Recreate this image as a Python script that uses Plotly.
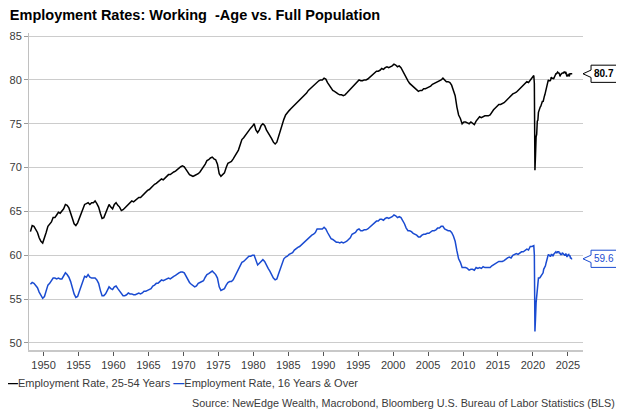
import pandas as pd
import plotly.graph_objects as go

# ---------------- data ----------------
title_text = "Employment Rates: Working  -Age vs. Full Population"
name_prime = "Employment Rate, 25-54 Years"
name_all = "Employment Rate, 16 Years & Over"
source_text = "Source: NewEdge Wealth, Macrobond, Bloomberg U.S. Bureau of Labor Statistics (BLS)"

# quarterly readings 1948-2019 (Feb, May, Aug, Nov)
prime_quarterly = [
    62.7, 63.4, 63.3, 63.0,  62.6, 62.0, 61.6, 61.4,  61.9, 62.6, 63.3, 63.5,
    63.8, 64.3, 64.3, 64.6,  64.9, 64.8, 65.1, 65.3,  65.8, 65.7, 65.4, 64.9,
    64.2, 63.6, 63.4, 63.7,  64.2, 64.8, 65.4, 65.8,  65.9, 66.0, 65.8, 66.0,
    66.0, 66.2, 65.9, 65.5,  64.8, 64.2, 64.3, 64.8,  65.3, 65.8, 65.5, 65.3,
    65.8, 66.0, 65.7, 65.5,  65.1, 65.2, 65.4, 65.6,  65.9, 66.0, 66.2, 66.1,
    66.3, 66.4, 66.6, 66.6,  66.8, 67.1, 67.2, 67.4,  67.5, 67.7, 68.0, 68.1,
    68.2, 68.4, 68.5, 68.7,  68.6, 68.8, 69.0, 69.2,  69.2, 69.4, 69.5, 69.6,
    69.8, 69.9, 70.1, 70.2,  70.1, 69.8, 69.5, 69.2,  69.1, 69.0, 69.1, 69.2,
    69.3, 69.5, 69.8, 70.0,  70.4, 70.8, 70.9, 71.1,  71.2, 71.0, 70.9, 70.4,
    69.3, 69.0, 69.2, 69.4,  70.0, 70.5, 70.6, 70.7,  71.0, 71.3, 71.6, 72.0,
    72.6, 73.2, 73.4, 73.7,  74.0, 74.3, 74.5, 74.7,  75.0, 74.3, 74.0, 74.3,
    74.8, 75.0, 74.8, 74.3,  74.0, 73.7, 73.3, 72.9,  72.7, 72.9, 73.6, 74.2,
    74.8, 75.5, 76.0, 76.3,  76.5, 76.7, 76.9, 77.1,  77.3, 77.5, 77.6, 77.8,
    78.0, 78.3, 78.5, 78.8,  79.0, 79.1, 79.3, 79.5,  79.8, 79.9, 80.0, 80.0,
    80.2, 80.1, 79.7, 79.4,  79.0, 78.8, 78.7, 78.5,  78.4, 78.3, 78.3, 78.2,
    78.3, 78.5, 78.7, 79.0,  79.2, 79.4, 79.6, 79.8,  80.0, 79.9, 79.9, 80.0,
    80.0, 80.1, 80.3, 80.5,  80.6, 80.8, 81.0, 81.0,  81.1, 81.3, 81.2, 81.4,
    81.5, 81.4, 81.5, 81.6,  81.8, 81.7, 81.5, 81.6,  81.4, 81.0, 80.6, 80.2,
    79.9, 79.6, 79.4, 79.2,  79.0, 78.9, 78.7, 78.8,  78.8, 79.0, 79.0, 79.1,
    79.2, 79.3, 79.5, 79.6,  79.7, 79.8, 79.9, 80.0,  80.2, 80.0, 79.8, 79.8,
    79.7, 79.4, 78.8, 78.2,  76.9, 76.0, 75.6, 75.0,  75.2, 75.2, 75.1, 75.0,
    75.2, 75.0, 74.9, 75.3,  75.6, 75.8, 75.7, 75.8,  75.9, 75.9, 75.9, 76.0,
    76.4, 76.6, 76.8, 77.0,  77.2, 77.2, 77.3, 77.4,  77.6, 77.8, 78.1, 78.2,
    78.4, 78.5, 78.6, 78.8,  79.0, 79.3, 79.5, 79.7,  79.8, 79.7, 80.0, 80.3,
]
all_quarterly = [
    56.7, 56.9, 56.8, 56.5,  56.3, 55.8, 55.4, 55.1,  55.3, 56.0, 56.6, 56.8,
    57.2, 57.4, 57.4, 57.3,  57.4, 57.3, 57.3, 57.6,  58.0, 57.8, 57.5, 57.0,
    56.2, 55.6, 55.2, 55.3,  55.9, 56.5, 57.2, 57.6,  57.5, 57.8, 57.5, 57.4,
    57.4, 57.4, 57.2, 56.8,  56.0, 55.4, 55.4, 55.6,  56.0, 56.4, 56.2, 56.1,
    56.4, 56.5, 56.2, 55.9,  55.6, 55.4, 55.4, 55.5,  55.7, 55.6, 55.6, 55.5,
    55.5, 55.6, 55.7, 55.6,  55.7, 55.9, 55.9, 56.0,  56.1, 56.2, 56.5, 56.6,
    56.8, 56.8, 57.0, 57.2,  57.1, 57.2, 57.3, 57.4,  57.3, 57.5, 57.6, 57.7,
    57.9, 58.0, 58.1, 58.1,  58.0, 57.6, 57.3, 56.9,  56.7, 56.5, 56.4, 56.5,
    56.8, 56.9, 57.0, 57.1,  57.5, 57.8, 57.9, 58.1,  58.2, 58.0, 57.8, 57.4,
    56.4, 56.0, 56.1, 56.2,  56.6, 56.9, 57.0, 57.0,  57.2, 57.6, 58.0, 58.3,
    58.8, 59.2, 59.3, 59.5,  59.8, 59.9, 59.9, 60.0,  60.0, 59.3, 58.9, 59.1,
    59.3, 59.5, 59.3, 58.8,  58.5, 58.2, 57.8, 57.4,  57.2, 57.3, 57.9, 58.5,
    59.0, 59.6, 59.8, 59.9,  60.1, 60.2, 60.3, 60.6,  60.8, 60.9, 61.0, 61.2,
    61.3, 61.6, 61.8, 62.0,  62.1, 62.3, 62.4, 62.6,  63.0, 63.0, 63.0, 63.0,
    63.2, 63.0, 62.6, 62.3,  61.9, 61.8, 61.6, 61.5,  61.5, 61.4, 61.5, 61.4,
    61.5, 61.6, 61.8, 62.0,  62.4, 62.5, 62.6, 62.9,  63.0, 62.8, 62.8, 62.9,
    62.9, 63.0, 63.2, 63.4,  63.6, 63.8, 63.9, 63.9,  64.1, 64.1, 64.0, 64.2,
    64.3, 64.2, 64.3, 64.4,  64.6, 64.5, 64.3, 64.4,  64.3, 64.0, 63.6, 63.1,
    62.8, 62.8, 62.7, 62.5,  62.4, 62.3, 62.1, 62.1,  62.3, 62.4, 62.4, 62.5,
    62.5, 62.7, 62.8, 62.8,  62.9, 63.1, 63.1, 63.3,  63.3, 63.0, 62.9, 62.8,
    62.8, 62.6, 62.2, 61.6,  60.5, 59.6, 59.2, 58.6,  58.6, 58.6, 58.5, 58.3,
    58.4, 58.4, 58.3, 58.6,  58.5, 58.6, 58.5, 58.7,  58.6, 58.6, 58.6, 58.6,
    58.8, 58.9, 59.0, 59.2,  59.3, 59.3, 59.3, 59.4,  59.6, 59.7, 59.8, 59.7,
    60.0, 60.1, 60.2, 60.1,  60.3, 60.4, 60.4, 60.6,  60.7, 60.6, 61.0, 61.0,
]

# monthly readings Jan 2020 - Aug 2025
prime_monthly = [
    80.5, 80.5, 79.6, 69.7, 71.4, 73.5, 73.8, 75.3, 75.4, 76.3, 76.6, 76.6,
    76.9, 77.0, 77.3, 77.3, 77.6, 77.5, 78.0, 78.1, 78.3, 78.6, 78.9, 79.1,
    79.7, 80.0, 80.0, 79.9, 79.9, 79.9, 80.0, 80.3, 80.2, 80.2, 80.2, 80.1,
    80.3, 80.4, 80.5, 80.7, 80.7, 80.9, 80.9, 80.8, 80.8, 80.7, 80.4, 80.6,
    80.7, 80.7, 80.8, 80.8, 80.8, 80.9, 80.9, 80.8, 80.9, 80.6, 80.4, 80.5,
    80.6, 80.5, 80.4, 80.7, 80.7, 80.7, 80.7, 80.7,
]
all_monthly = [
    61.1, 61.1, 60.1, 51.3, 52.8, 54.6, 55.2, 56.5, 56.6, 57.4, 57.4, 57.4,
    57.5, 57.6, 57.8, 57.9, 58.0, 58.0, 58.4, 58.5, 58.7, 58.8, 59.1, 59.4,
    59.8, 59.9, 60.1, 60.0, 60.0, 59.9, 59.9, 60.1, 60.1, 60.0, 59.9, 60.1,
    60.2, 60.2, 60.4, 60.4, 60.3, 60.3, 60.4, 60.4, 60.4, 60.2, 60.3, 60.1,
    60.1, 60.1, 60.3, 60.2, 60.1, 60.1, 60.0, 60.0, 60.2, 60.0, 59.8, 60.0,
    60.1, 60.1, 59.9, 60.0, 59.7, 59.7, 59.6, 59.6,
]

# ---------------- dates ----------------
q_dates = list(pd.date_range("1948-01-01", periods=len(prime_quarterly), freq="QS") + pd.DateOffset(months=1, days=14))
m_dates = list(pd.date_range("2020-01-01", periods=len(prime_monthly), freq="MS") + pd.DateOffset(days=14))
dates = q_dates + m_dates
prime = prime_quarterly + prime_monthly
allp = all_quarterly + all_monthly

BLACK = "#000000"
BLUE = "#1a4bd1"
TXT = "#3a3a3a"
FONT = "Liberation Sans, Arial, sans-serif"

fig = go.Figure()
fig.add_trace(go.Scatter(x=dates, y=prime, mode="lines", name=name_prime,
                         line=dict(color=BLACK, width=1.5), showlegend=False))
fig.add_trace(go.Scatter(x=dates, y=allp, mode="lines", name=name_all,
                         line=dict(color=BLUE, width=1.5), showlegend=False))

# end-value callouts
def callout(v, color, bold):
    x0, x1, x2 = 1.0, 1.0145, 1.0625
    h, n = 0.98, 0.42
    path = (f"M {x0},{v} L {x1},{v + n} L {x1},{v + h} L {x2},{v + h} "
            f"L {x2},{v - h} L {x1},{v - h} L {x1},{v - n} Z")
    fig.add_shape(type="path", path=path, xref="paper", yref="y",
                  line=dict(color=color, width=1), fillcolor="white", layer="above")
    txt = f"{v:.1f}"
    if bold:
        txt = f"<b>{txt}</b>"
    fig.add_annotation(x=(x1 + x2) / 2, y=v, xref="paper", yref="y", text=txt,
                       showarrow=False, font=dict(size=10, color=color, family=FONT),
                       xanchor="center", yanchor="middle")

callout(prime[-1], BLACK, True)
callout(allp[-1], BLUE, False)

# legend (drawn as a text line)
legend_text = (f"<span style='color:{BLACK}'><b>—</b></span>{name_prime} "
               f"<span style='color:{BLUE}'><b>—</b></span>{name_all}")
fig.add_annotation(x=-0.043, y=-0.104, xref="paper", yref="paper", text=legend_text,
                   showarrow=False, xanchor="left", yanchor="middle",
                   font=dict(size=11, color=TXT, family=FONT))
fig.add_annotation(x=1.062, y=-0.167, xref="paper", yref="paper", text=source_text,
                   showarrow=False, xanchor="right", yanchor="middle",
                   font=dict(size=10.8, color=TXT, family=FONT))

# page body has an 8px margin, so the figure is sized to fit the 624x419 window
fig.update_layout(
    width=616, height=411,
    margin=dict(l=21, r=41, t=25, b=69),
    paper_bgcolor="white", plot_bgcolor="white",
    font=dict(family=FONT, size=11, color=TXT),
    title=dict(text=f"<b>{title_text}</b>", x=0.003, xanchor="left", y=0.982, yanchor="middle",
               font=dict(size=14.5, color="#000000", family=FONT)),
    showlegend=False,
)
fig.update_xaxes(
    type="date", range=["1947-12-01", "2027-03-01"], automargin=False,
    tick0="1950-01-01", dtick="M60", tickformat="%Y",
    ticks="outside", ticklen=4, tickcolor="#555555", tickwidth=1,
    showgrid=False, showline=True, linecolor="#c8c8c8", linewidth=2,
    tickfont=dict(size=11, color=TXT), zeroline=False,
)
fig.update_yaxes(
    range=[49.2, 85.35], tick0=50, dtick=5, automargin=False,
    ticks="outside", ticklen=4, tickcolor="#9a9a9a", tickwidth=1,
    showgrid=True, gridcolor="#cccccc", gridwidth=1,
    showline=True, linecolor="#c0c0c0", linewidth=1,
    tickfont=dict(size=11, color=TXT), zeroline=False,
)

fig.write_html("out.html")
